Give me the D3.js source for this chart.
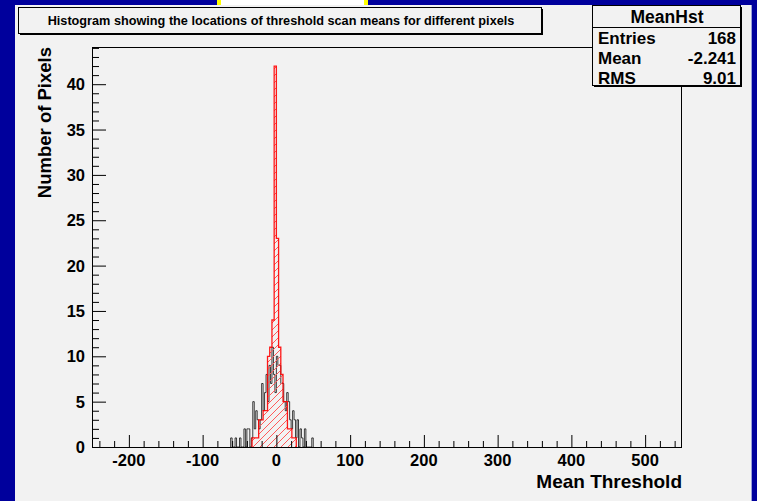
<!DOCTYPE html>
<html>
<head>
<meta charset="utf-8">
<script src="https://cdn.jsdelivr.net/npm/d3@7"></script>
<style>
  html, body { margin: 0; padding: 0; background: #00009c; }
  svg { display: block; font-family: "Liberation Sans", Arial, sans-serif; font-weight: bold; }
</style>
</head>
<body>
<svg id="chart" width="757" height="501"></svg>
<script>
// Black histogram: bin lower edges (width 2) and counts
const blackBinWidth = 2;
const blackEdges = [-62,-60,-58,-56,-54,-52,-50,-48,-46,-44,-42,-40,-38,-36,-34,-32,-30,-28,-26,-24,-22,-20,-18,-16,-14,-12,-10,-8,-6,-4,-2,0,2,4,6,8,10,12,14,16,18,20,22,24,26,28,30,32,34,36,38,40,42,44,46,48];
const blackCounts = [1,0,0,1,0,0,1,0,0,2,0,2,2,0,1,5,2,4,3,2,3,7,4,6,8,5,9,7,11,8,6,10,9,9,7,7,5,4,6,5,3,2,4,3,1,3,0,2,1,0,2,0,0,0,0,1];

// Red (hatched) histogram: bin lower edges (width 3) and counts
const redBinWidth = 3;
const redEdges = [-33,-30,-27,-24,-21,-18,-15,-12,-9,-6,-3,0,3,6,9,12,15,18,21,24];
const redCounts = [1,1,1,3,3,4,4,10,11,14,42,23,11,8,5,5,2,2,1,1];

// Axis ticks
const xMajorTicks = [-200,-100,0,100,200,300,400,500];
const yMajorTicks = [0,5,10,15,20,25,30,35,40];

// Statistics box
const statsTitle = "MeanHst";
const statsRows = [["Entries","168"],["Mean","-2.241"],["RMS","9.01"]];
const chartTitle = "Histogram showing the locations of threshold scan means for different pixels";
const xTitle = "Mean Threshold";
const yTitle = "Number of Pixels";

const svg = d3.select("#chart");
const panelColor = "#f2f2f2";

// Canvas panel
svg.append("rect").attr("x",0).attr("y",0).attr("width",757).attr("height",501).attr("fill","#00009c");
svg.append("rect").attr("x",217).attr("y",0).attr("width",151).attr("height",6).attr("fill","#ffff00");
svg.append("rect").attr("x",221).attr("y",0).attr("width",143).attr("height",6).attr("fill","#ffffff");
svg.append("rect").attr("x",15).attr("y",5).attr("width",736).attr("height",496).attr("fill",panelColor);
svg.append("line").attr("x1",751.5).attr("x2",751.5).attr("y1",5).attr("y2",501).attr("stroke","#9aa0d8").attr("stroke-width",1);

const padL = 92, padR = 682, padT = 47, padB = 447;
const x = d3.scaleLinear().domain([-250,550]).range([padL,padR]);
const y = d3.scaleLinear().domain([0,44.1]).range([padB,padT]);

// Hatch pattern (diagonal "/" lines)
const defs = svg.append("defs");
const pat = defs.append("pattern").attr("id","hatch").attr("patternUnits","userSpaceOnUse")
  .attr("width",7).attr("height",7);
pat.append("path").attr("d","M0,7 L7,0 M-1.5,1.5 L1.5,-1.5 M5.5,8.5 L8.5,5.5")
  .attr("stroke","#ff5a5a").attr("stroke-width",1);

function stepPath(edges, counts, w) {
  let p = `M${x(edges[0])},${y(0)}`;
  edges.forEach((e,i) => {
    p += `V${y(counts[i])}H${x(e + w)}`;
  });
  p += `V${y(0)}`;
  return p;
}

const plot = svg.append("g");

// Black histogram
plot.append("path").attr("d", stepPath(blackEdges, blackCounts, blackBinWidth))
  .attr("fill","none").attr("stroke","#000").attr("stroke-width",1).attr("stroke-opacity",0.75);

// Red hatched histogram
const redPath = stepPath(redEdges, redCounts, redBinWidth);
plot.append("path").attr("d", redPath + "Z").attr("fill","url(#hatch)").attr("stroke","none");
plot.append("path").attr("d", redPath).attr("fill","none").attr("stroke","#ff0000").attr("stroke-width",1.3).attr("stroke-opacity",0.9);

// Frame
const frame = svg.append("g").attr("stroke","#000").attr("stroke-width",1).attr("fill","none");
frame.append("line").attr("x1",padL).attr("x2",padR).attr("y1",padB+0.5).attr("y2",padB+0.5);
frame.append("line").attr("x1",padL+0.5).attr("x2",padL+0.5).attr("y1",padT).attr("y2",padB);
frame.append("line").attr("x1",padL).attr("x2",592).attr("y1",padT+0.5).attr("y2",padT+0.5);
frame.append("line").attr("x1",padR-0.5).attr("x2",padR-0.5).attr("y1",86).attr("y2",padB);

// X axis
const xAxis = d3.axisTop(x).tickValues(xMajorTicks).tickSize(12).tickFormat("");
const xMinor = d3.axisTop(x).tickValues(d3.range(-240,551,20).filter(v => v % 100 !== 0)).tickSize(6).tickFormat("");
[xAxis, xMinor].forEach(a => {
  const g = svg.append("g").attr("transform",`translate(0,${padB})`).call(a);
  g.select(".domain").remove();
  g.selectAll("line").attr("stroke","#000");
});
svg.append("g").selectAll("text").data(xMajorTicks).join("text")
  .attr("x", d => x(d)).attr("y", 466).attr("text-anchor","middle")
  .attr("font-size",16.5).attr("fill","#000").text(d => d);
svg.append("text").attr("x", padR).attr("y", 488).attr("text-anchor","end")
  .attr("font-size",19).attr("fill","#000").text(xTitle);

// Y axis
const yAxis = d3.axisRight(y).tickValues(yMajorTicks).tickSize(14).tickFormat("");
const yMinor = d3.axisRight(y).tickValues(d3.range(1,45).filter(v => v % 5 !== 0)).tickSize(7).tickFormat("");
[yAxis, yMinor].forEach(a => {
  const g = svg.append("g").attr("transform",`translate(${padL},0)`).call(a);
  g.select(".domain").remove();
  g.selectAll("line").attr("stroke","#000");
});
svg.append("g").selectAll("text").data(yMajorTicks).join("text")
  .attr("x", 85).attr("y", d => y(d) + 6).attr("text-anchor","end")
  .attr("font-size",16.5).attr("fill","#000").text(d => d);
svg.append("text").attr("transform",`translate(51,${padT}) rotate(-90)`).attr("text-anchor","end")
  .attr("font-size",18.5).attr("fill","#000").text(yTitle);

// Title box with shadow
function paveBox(x0, y0, w, h) {
  svg.append("rect").attr("x",x0+2).attr("y",y0+2).attr("width",w).attr("height",h).attr("fill","#000");
  svg.append("rect").attr("x",x0+0.5).attr("y",y0+0.5).attr("width",w).attr("height",h)
    .attr("fill",panelColor).attr("stroke","#000").attr("stroke-width",1);
}
paveBox(18, 7, 523, 26);
svg.append("text").attr("x", 281).attr("y", 25).attr("text-anchor","middle")
  .attr("font-size",12.7).attr("fill","#000").text(chartTitle);

// Stats box
paveBox(592, 5, 148, 80);
svg.append("line").attr("x1",592).attr("x2",740.5).attr("y1",27.5).attr("y2",27.5).attr("stroke","#000");
svg.append("text").attr("x", 667).attr("y", 23).attr("text-anchor","middle")
  .attr("font-size",17.5).attr("fill","#000").text(statsTitle);
statsRows.forEach((r,i) => {
  const yy = 44 + i*20;
  svg.append("text").attr("x",598).attr("y",yy).attr("font-size",17).attr("fill","#000").text(r[0]);
  svg.append("text").attr("x",736).attr("y",yy).attr("text-anchor","end").attr("font-size",17).attr("fill","#000").text(r[1]);
});
</script>
</body>
</html>
